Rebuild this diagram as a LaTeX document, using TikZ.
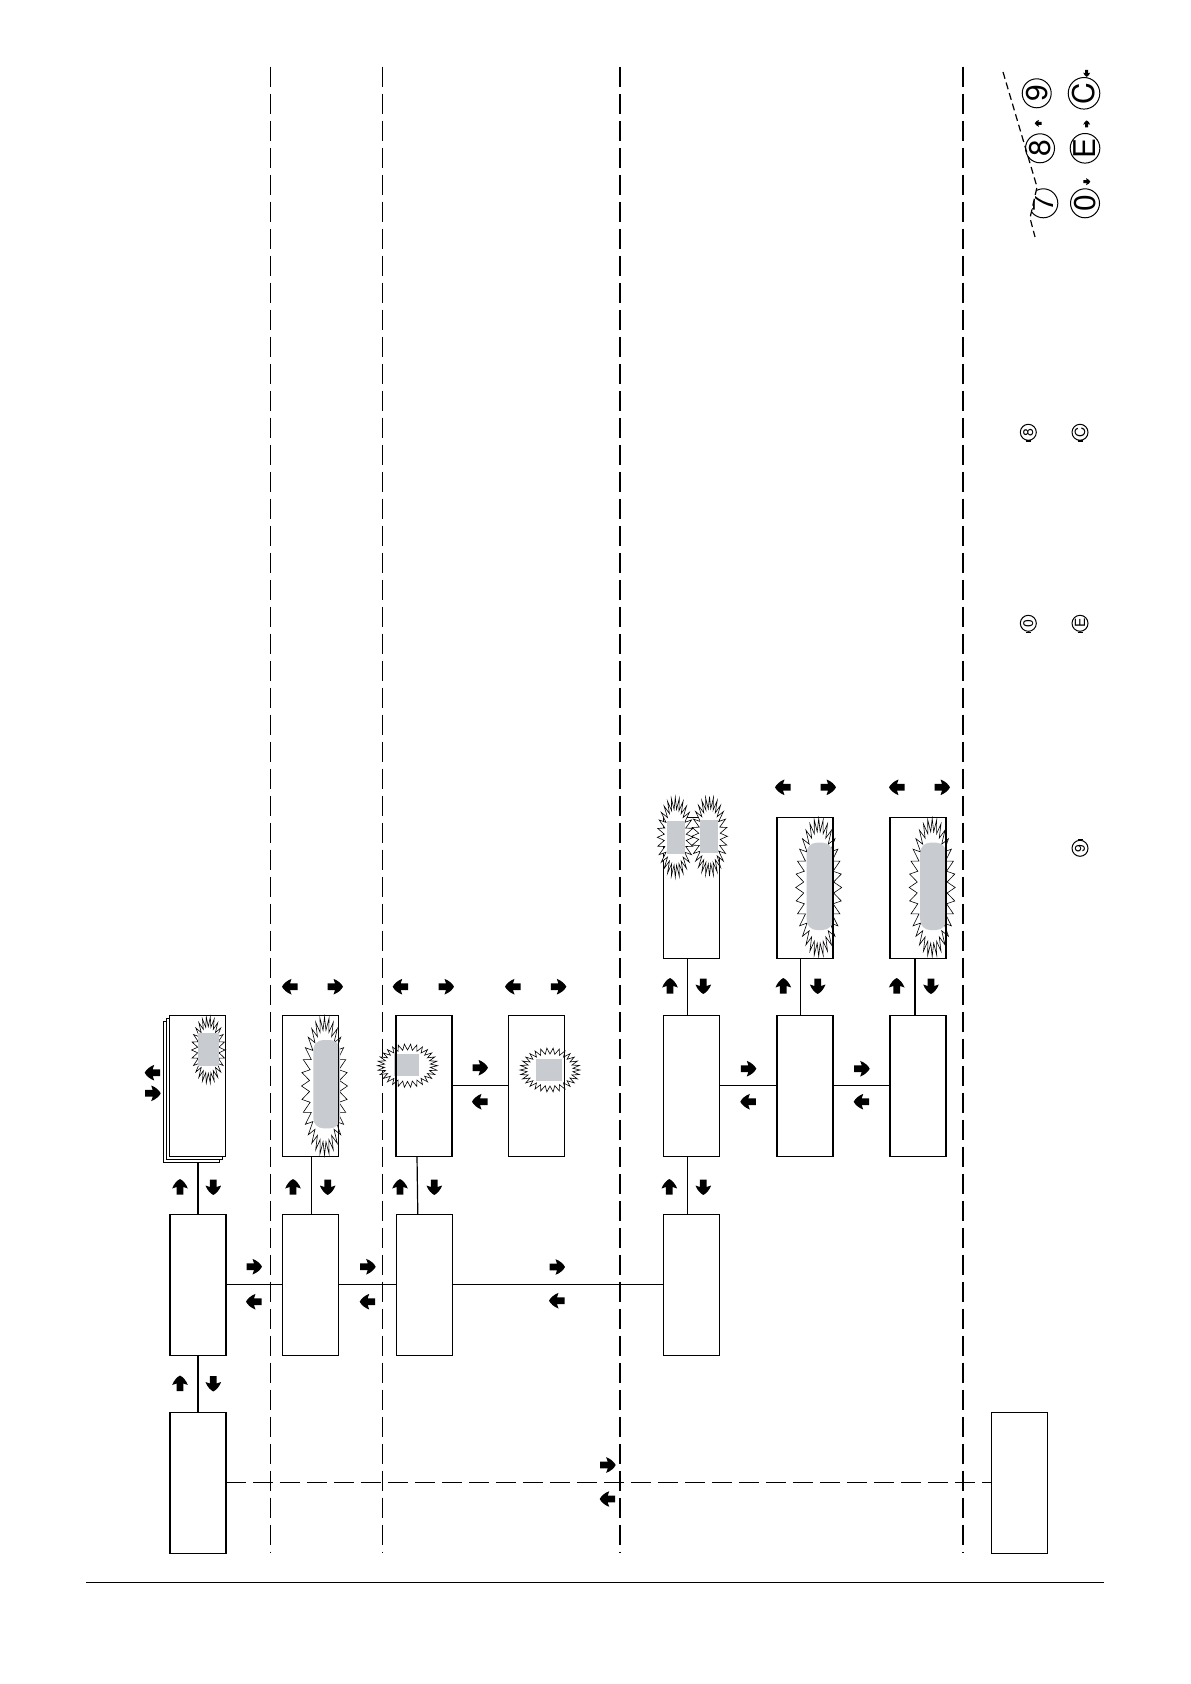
\documentclass[tikz,border=0pt]{standalone}
\usepackage{fontspec}
\newfontfamily\keyfont{TeX Gyre Heros}
\definecolor{grayfill}{HTML}{C8CBD0}
\pgfdeclarelayer{lanes}
\pgfdeclarelayer{bursts}
\pgfdeclarelayer{front}
\pgfsetlayers{lanes,bursts,main,front}
\tikzset{
  box/.style={draw, line width=0.6pt, rectangle, minimum width=28pt, minimum height=70.5pt, inner sep=0pt, outer sep=0pt},
  conn/.style={line width=0.6pt},
  lane/.style={line width=0.6pt, dash pattern=on 10pt off 3.5pt},
  keydash/.style={line width=0.6pt, dash pattern=on 3.5pt off 2pt},
  burstl/.style={draw=black, fill=white, line width=0.3pt},
  shade/.style={fill=grayfill},
  farrow/.pic={\fill[black] (-7.5,-3.4) -- (0,-3.4) -- (-1.5,-7.8) .. controls (3,-6.2) and (6.5,-3) .. (8,0) .. controls (6.5,3) and (3,6.2) .. (-1.5,7.8) -- (0,3.4) -- (-7.5,3.4) -- cycle;},
  key/.style={circle, draw, line width=0.5pt, minimum size=14.5pt, inner sep=0pt, font=\keyfont\fontsize{15}{15}\selectfont, rotate=90},
  smallkey/.style={circle, draw, line width=0.5pt, minimum size=8pt, inner sep=0pt, font=\keyfont\fontsize{7}{7}\selectfont, rotate=90},
}
% cx cy rx ry n dx dy
\newcommand\burst[7]{%
  \pgfmathtruncatemacro\bsamples{2*#5+1}%
  \path[burstl] plot[domain=0:360, samples=\bsamples, variable=\t] ({#1+(#3-#6*mod(round(\t*#5/180),2))*cos(\t)}, {#2+(#4-#7*mod(round(\t*#5/180),2))*sin(\t)}) -- cycle;%
}
\newcommand\farr[3]{\pic[rotate=#3] at (#1,#2) {farrow};}
\begin{document}
\begin{tikzpicture}[x=0.5pt, y=-0.5pt]
\useasboundingbox (0,0) rectangle (1190,1684);

% lanes
\begin{pgfonlayer}{lanes}
\draw[lane] (270.3,66.6) -- (270.3,1553);
\draw[lane] (382.3,66.6) -- (382.3,1553);
\draw[lane] (620,66.6) -- (620,1553);
\draw[lane] (963,66.6) -- (963,1553);
\end{pgfonlayer}
\draw[line width=0.7pt] (86,1582.3) -- (1104.3,1582.3);

% bursts behind boxes
\begin{pgfonlayer}{bursts}
\burst{324.5}{1086}{23}{69}{32}{8}{13}
\fill[shade, rounded corners=5pt] (313.3,1040) rectangle (340,1128.3);
\burst{407.5}{1065.7}{30}{21.7}{30}{7}{6}
\fill[shade] (394.3,1054) rectangle (419,1076);
\burst{550}{1070}{30}{22}{30}{7}{6}
\fill[shade] (535.7,1059) rectangle (562.3,1081);
\burst{818.7}{887.5}{23}{69}{32}{8}{13}
\fill[shade, rounded corners=5pt] (806.7,842.7) rectangle (832.7,930);
\burst{932.2}{887.5}{23}{69}{32}{8}{13}
\fill[shade, rounded corners=5pt] (920.2,842.7) rectangle (946.2,930);
\end{pgfonlayer}

% boxes
\node[box] (a4) at (197.9,1482.8) {};
\node[box] (z4) at (1019.5,1482.8) {};
\node[box] (a3) at (197.9,1284.7) {};
\node[box] (b3) at (310.8,1284.7) {};
\node[box] (c3) at (424.8,1284.7) {};
\node[box] (e3) at (691.3,1284.7) {};
\node[box, fill=white] (a2c) at (191.5,1091.7) {};
\node[box, fill=white] (a2b) at (194.5,1088.7) {};
\node[box, fill=white] (a2) at (197.5,1085.7) {};
\node[box] (b2) at (310.8,1085.7) {};
\node[box] (c2) at (424,1085.7) {};
\node[box] (d2) at (536.8,1085.7) {};
\node[box] (e2) at (691.3,1085.7) {};
\node[box] (f2) at (805,1085.7) {};
\node[box] (g2) at (918,1085.7) {};
\node[box] (e1) at (691.3,887.8) {};
\node[box] (f1) at (805,887.8) {};
\node[box] (g1) at (918,887.8) {};

% stacked-box burst (on top of white-filled stack)
\burst{208.3}{1050}{16.7}{33.3}{26}{6}{10}
\fill[shade] (198.3,1033.3) rectangle (219,1065.7);
\draw[line width=0.6pt] (a2.north west) rectangle (a2.south east);

% bursts in front of E row1 box
\begin{pgfonlayer}{front}
\burst{675.3}{837.3}{18}{40}{28}{7}{12}
\fill[shade] (666.7,821) rectangle (685,854);
\burst{709.5}{836.3}{17.8}{39.7}{28}{7}{12}
\fill[shade] (700,820) rectangle (718.3,853.3);
\end{pgfonlayer}

% connectors
\draw[conn] (a3.east) -- (b3.west);
\draw[conn] (b3.east) -- (c3.west);
\draw[conn] (c3.east) -- (e3.west);
\draw[conn] (c2.east) -- (d2.west);
\draw[conn] (e2.east) -- (f2.west);
\draw[conn] (f2.east) -- (g2.west);
\draw[lane] (a4.east) -- (z4.west);
\draw[conn] (a4.north) -- (a3.south);
\draw[conn] (a3.north) -- (a3.north |- a2c.south);
\draw[conn] ([xshift=0.5pt]b3.north) -- ([xshift=0.5pt]b2.south);
\draw[conn] ([xshift=-3.5pt]c3.north) -- ([xshift=-3.5pt]c2.south);
\draw[conn] ([xshift=-2pt]e3.north) -- ([xshift=-2pt]e2.south);
\draw[conn] ([xshift=-2pt]e2.north) -- ([xshift=-2pt]e1.south);
\draw[conn] ([xshift=-2.2pt]f2.north) -- ([xshift=-2.2pt]f1.south);
\draw[conn] ([xshift=-1.5pt]g2.north) -- ([xshift=-1.5pt]g1.south);

% arrows on horizontal connectors
\farr{254}{1266.7}{0} \farr{254}{1301.7}{180}
\farr{367.7}{1266.7}{0} \farr{367.7}{1301.7}{180}
\farr{557}{1267}{0} \farr{557}{1300.7}{180}
\farr{480}{1067.7}{0} \farr{480}{1101.7}{180}
\farr{748.3}{1068.7}{0} \farr{748.3}{1101.7}{180}
\farr{861.7}{1068.7}{0} \farr{861.7}{1101.7}{180}
\farr{607.7}{1465}{0} \farr{607.7}{1499}{180}
\farr{152.7}{1072.7}{180} \farr{152.7}{1093.3}{0}
% arrows on vertical connectors
\farr{180}{1383.5}{90} \farr{213.3}{1383.5}{-90}
\farr{180}{1187}{90} \farr{213.3}{1187}{-90}
\farr{293}{1187}{90} \farr{327.7}{1187}{-90}
\farr{400}{1187}{90} \farr{434.3}{1187}{-90}
\farr{669.3}{1187}{90} \farr{703.3}{1187}{-90}
\farr{670}{986}{90} \farr{703.3}{986}{-90}
\farr{783.3}{986}{90} \farr{817.7}{986}{-90}
\farr{896.7}{986}{90} \farr{931}{986}{-90}
% free arrows above boxes
\farr{290}{986.7}{180} \farr{335}{986.7}{0}
\farr{400.7}{986.7}{180} \farr{446}{986.7}{0}
\farr{513}{986.7}{180} \farr{558.3}{986.7}{0}
\farr{783}{787.3}{180} \farr{828}{787.3}{0}
\farr{897}{787.3}{180} \farr{942}{787.3}{0}

% keypad
\node[key] (k9) at (1036.7,93.3) {9};
\node[key] (k8) at (1040,148.3) {8};
\node[key] (kc) at (1084,93.3) {C};
\node[key] (ke) at (1085,148.3) {E};
\node[key] (k0) at (1085,203.3) {0};
\begin{scope}
\clip (1040.8,170) -- (1026.2,235) -- (1070,235) -- (1070,170) -- cycle;
\node[key] (k7) at (1043.3,203.3) {7};
\end{scope}
\draw[keydash] (1003,72) -- (1037,187) -- (1030,218) -- (1035,237);
\pic[scale=0.45] at (1086.7,181.7) {farrow};
\pic[scale=0.45, rotate=90] at (1086.7,124) {farrow};
\pic[scale=0.45, rotate=-90] at (1086.7,73.3) {farrow};
\pic[scale=0.45, rotate=180] at (1038.3,123.3) {farrow};

% small keys
\node[smallkey] (s8) at (1028.3,432.3) {8};
\node[smallkey] (sc) at (1080,432.3) {C};
\node[smallkey] (s0) at (1028.3,623.3) {0};
\node[smallkey] (se) at (1080,623.3) {E};
\node[smallkey] (s9) at (1080,848.3) {9};
\draw[line width=0.8pt] (1025.8,441.3) -- (1030.8,441.3);
\draw[line width=0.8pt] (1077.5,441.3) -- (1082.5,441.3);
\draw[line width=0.8pt] (1025.8,632.3) -- (1030.8,632.3);
\draw[line width=0.8pt] (1077.5,632.3) -- (1082.5,632.3);
\draw[line width=0.8pt] (1077.5,839.3) -- (1082.5,839.3);
\end{tikzpicture}
\end{document}
